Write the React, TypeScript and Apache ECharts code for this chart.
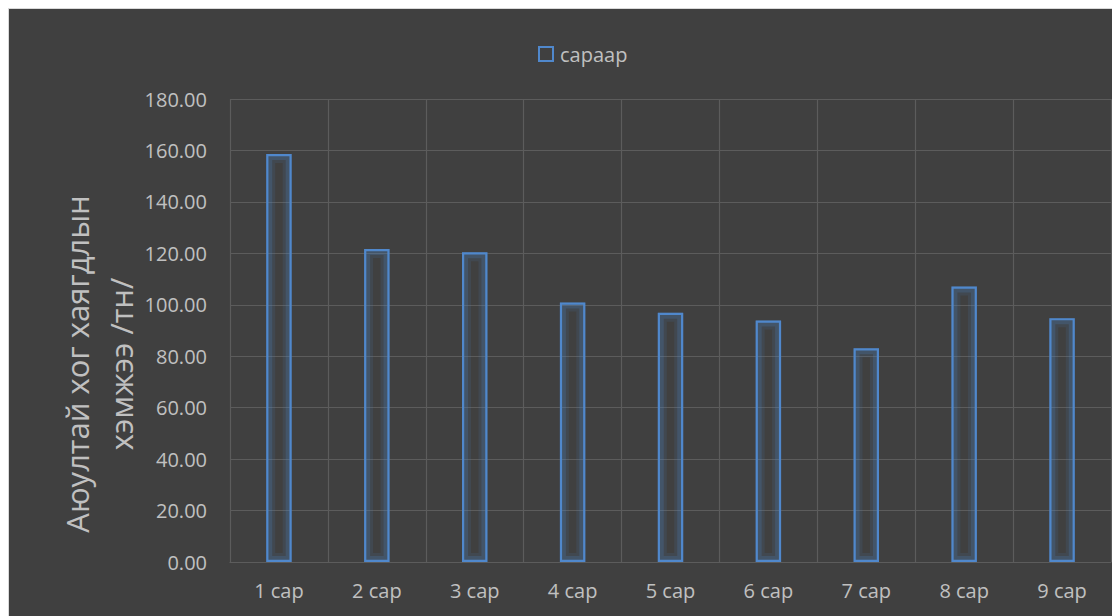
import React, { useEffect, useRef } from "react";
import * as echarts from "echarts";

const categories = ["1 сар", "2 сар", "3 сар", "4 сар", "5 сар", "6 сар", "7 сар", "8 сар", "9 сар"];
const values = [158.6, 121.7, 120.4, 100.9, 96.9, 93.9, 83.1, 107.1, 94.8];
const seriesName = "сараар";
const yTitleLines = ["Аюултай хог хаягдлын", "хэмжээ /тн/"];

const FONT = '"Open Sans", "Noto Sans", sans-serif';
const TEXT = "#c0c0c0";
const GRID = "#5c5c5c";
const BLUE = "#5088cc";

export default function App() {
  const ref = useRef<HTMLDivElement>(null);
  useEffect(() => {
    if (!ref.current) return;
    const chart = echarts.init(ref.current, null, { renderer: "svg" });
    const glow = (w: number, a: number) => ({
      name: "glow" + w,
      type: "bar",
      data: values,
      barWidth: "26%",
      barGap: "-100%",
      silent: true,
      itemStyle: {
        color: "transparent",
        borderColor: `rgba(78,131,196,${a})`,
        borderWidth: w,
      },
      emphasis: { disabled: true },
    });
    chart.setOption({
      animation: false,
      backgroundColor: "#404040",
      textStyle: { fontFamily: FONT },
      legend: {
        show: true,
        left: 524,
        top: 30,
        itemWidth: 14,
        itemHeight: 14,
        itemGap: 6,
        icon: "rect",
        itemStyle: { color: "transparent", borderColor: BLUE, borderWidth: 2 },
        textStyle: { color: TEXT, fontSize: 20, fontFamily: FONT, padding: [0, 0, 0, 2] },
        data: [seriesName],
      },
      grid: { left: 221, top: 90, right: 9, bottom: 54, containLabel: false },
      xAxis: {
        type: "category",
        data: categories,
        axisLine: { show: true, lineStyle: { color: GRID, width: 1.2 } },
        axisTick: { show: false },
        axisLabel: { color: TEXT, fontSize: 20, fontFamily: FONT, margin: 18 },
        splitLine: { show: true, lineStyle: { color: GRID, width: 1.2 } },
      },
      yAxis: {
        type: "value",
        min: 0,
        max: 180,
        interval: 20,
        axisLine: { show: false },
        axisTick: { show: false },
        axisLabel: {
          color: TEXT,
          fontSize: 20,
          fontFamily: FONT,
          margin: 23,
          formatter: (v: number) => v.toFixed(2),
        },
        splitLine: { show: true, lineStyle: { color: GRID, width: 1.2 } },
      },
      graphic: [
        {
          type: "text",
          x: 90,
          y: 355,
          rotation: Math.PI / 2,
          style: {
            text: yTitleLines.join("\n"),
            fill: TEXT,
            fontSize: 31,
            fontFamily: FONT,
            align: "center",
            verticalAlign: "middle",
            lineHeight: 44,
          },
        },
      ],
      series: [
        glow(9, 0.12),
        glow(6, 0.22),
        {
          name: seriesName,
          type: "bar",
          data: values,
          barWidth: "26%",
          barGap: "-100%",
          itemStyle: {
            color: "transparent",
            borderColor: BLUE,
            borderWidth: 2.2,
          },
          emphasis: { disabled: true },
        },
      ],
    });
    return () => chart.dispose();
  }, []);
  return (
    <div
      style={{
        width: 1112,
        height: 608,
        boxSizing: "border-box",
        borderTop: "1px solid #d9d9d9",
        borderLeft: "1px solid #d9d9d9",
        overflow: "hidden",
      }}
    >
      <div ref={ref} style={{ width: 1111, height: 607 }} />
    </div>
  );
}
